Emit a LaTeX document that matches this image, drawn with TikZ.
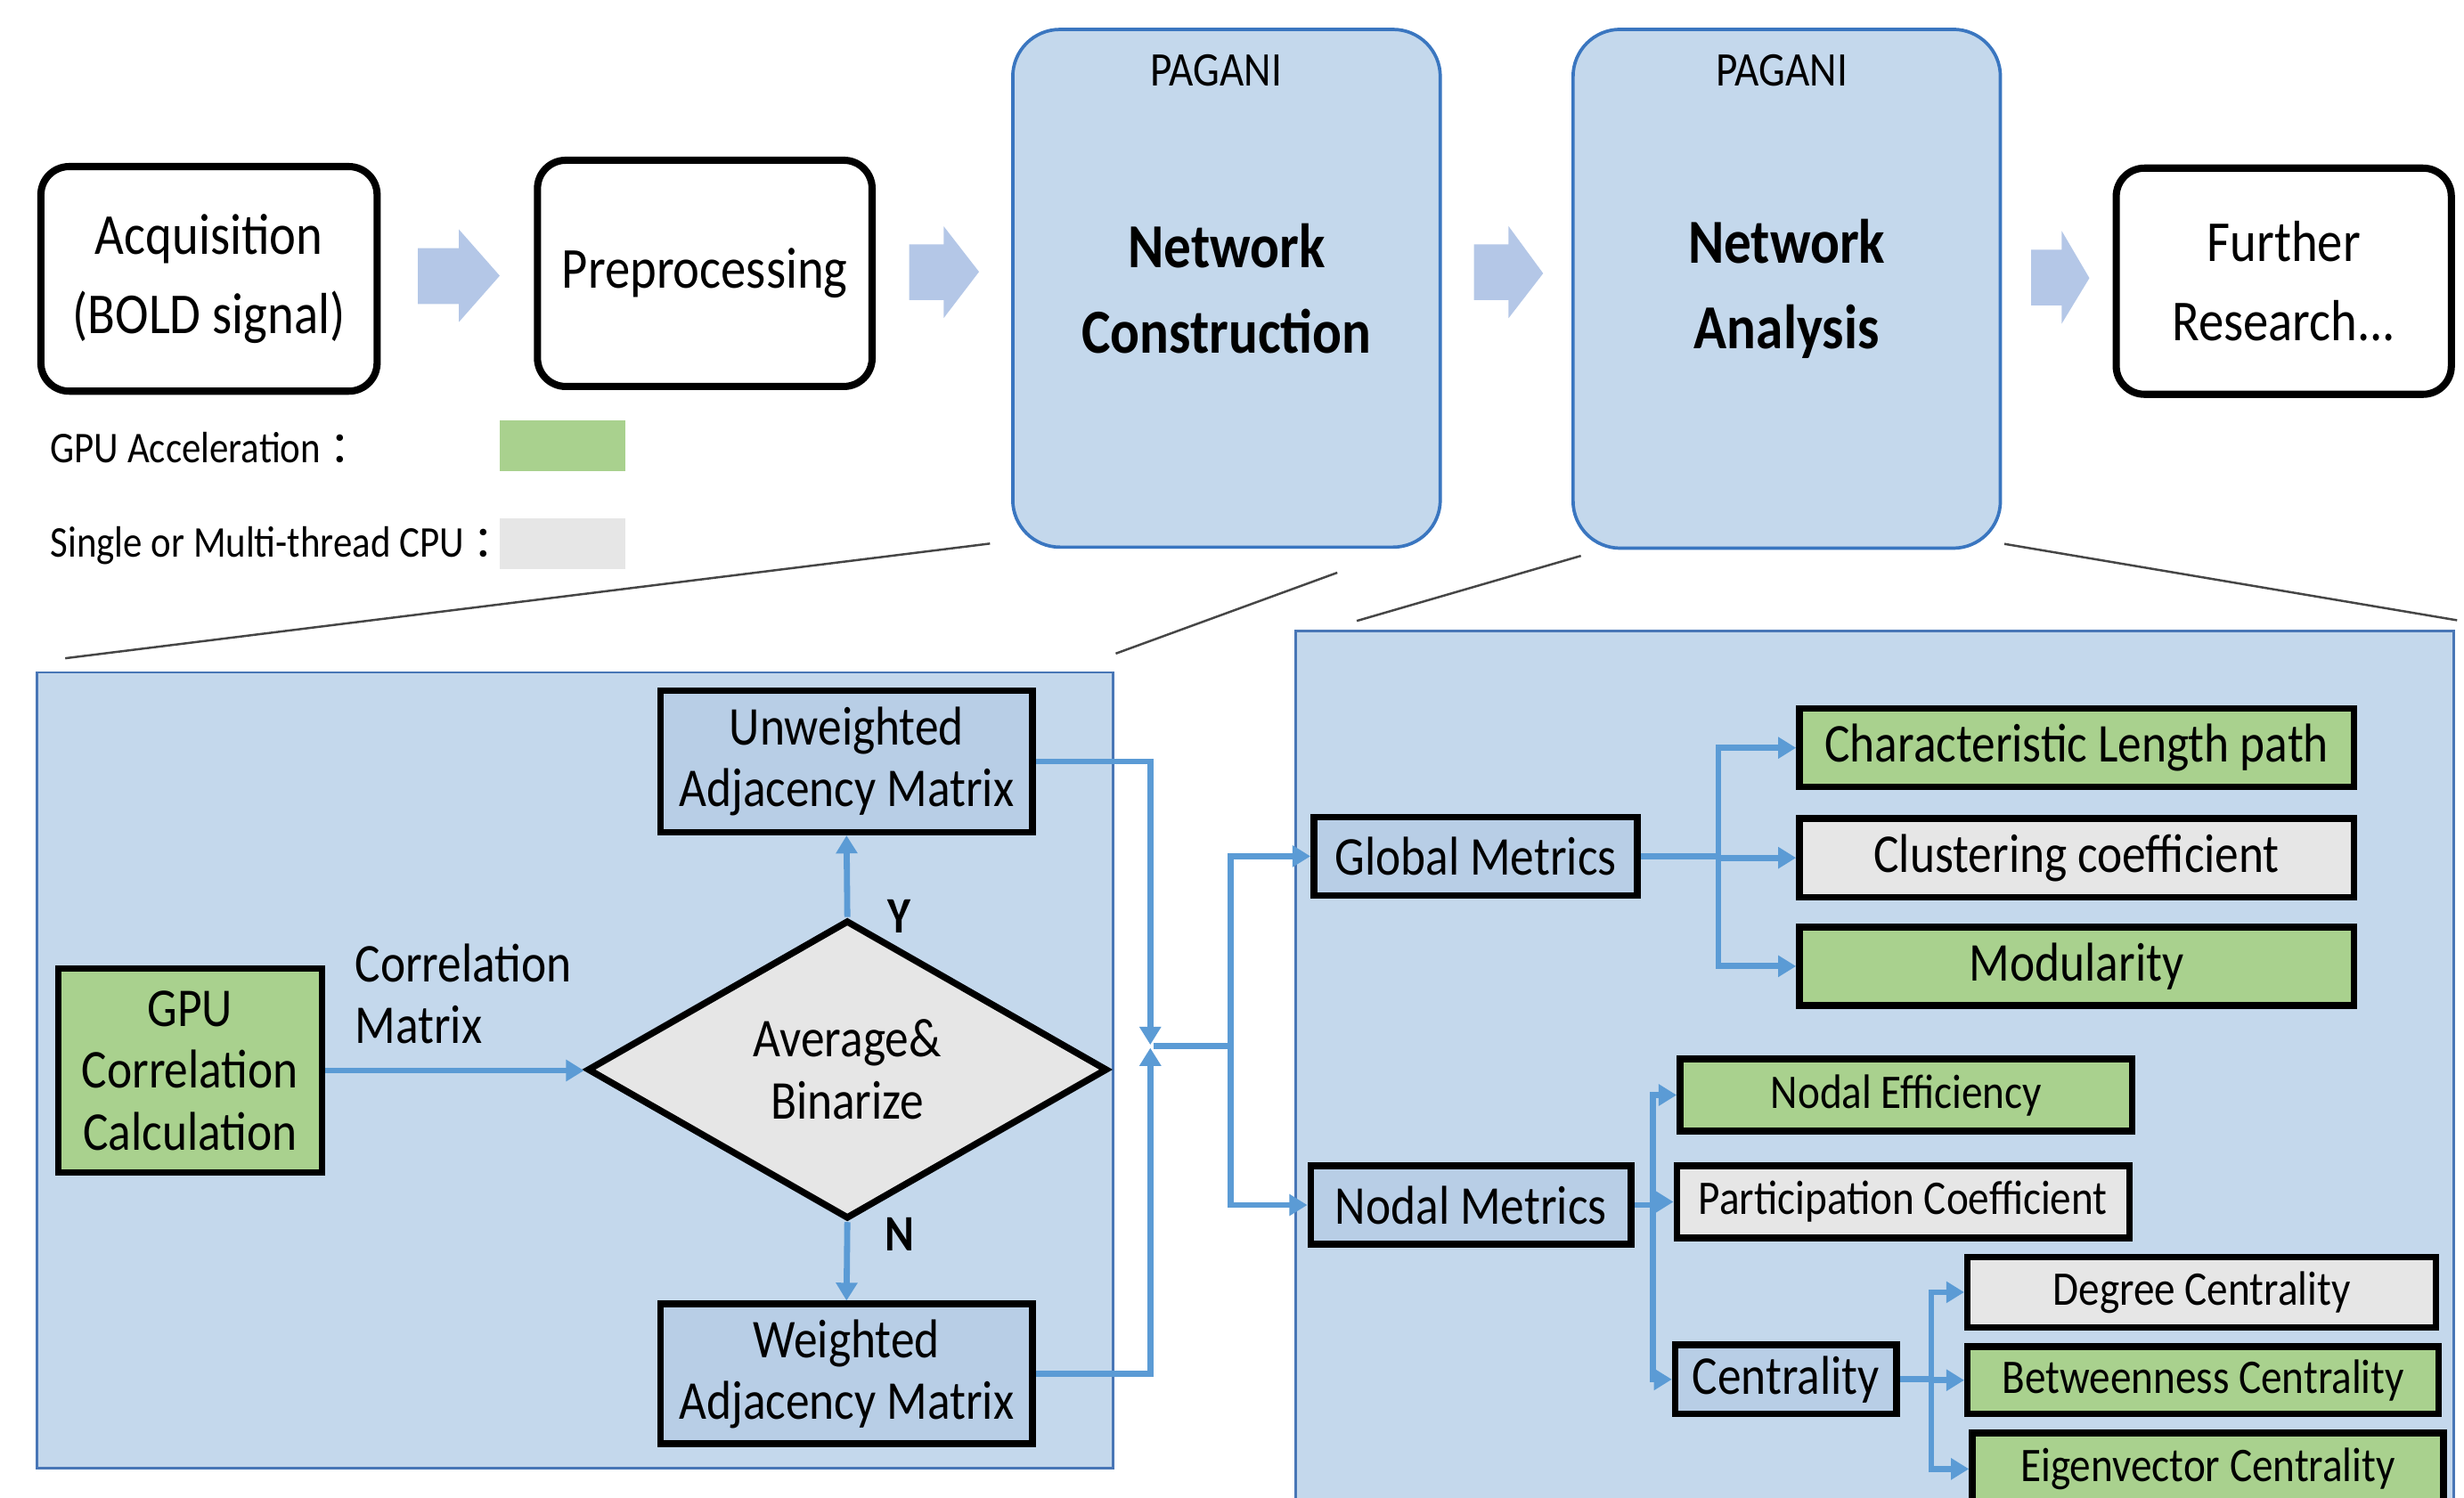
\documentclass[tikz,border=0pt]{standalone}
\usepackage{fontspec}
\setmainfont{Carlito}[FakeStretch=0.87]
\newfontfamily\cjk{Noto Sans CJK SC}
\usetikzlibrary{arrows.meta,shapes.geometric,calc}
\definecolor{panelblue}{RGB}{196,216,236}
\definecolor{boxblue}{RGB}{184,206,230}
\definecolor{pagborder}{RGB}{58,118,192}
\definecolor{panelborder}{RGB}{72,118,182}
\definecolor{arrowblue}{RGB}{180,199,231}
\definecolor{connblue}{RGB}{91,155,213}
\definecolor{gpugreen}{RGB}{169,209,142}
\definecolor{cpugray}{RGB}{230,230,230}
\definecolor{zoomgray}{RGB}{70,70,70}
\newcommand\fsz[2]{\fontsize{#1}{#2}\selectfont}
\begin{document}
\begin{tikzpicture}[x=0.02cm,y=-0.02cm,
  sz/.style 2 args={minimum width=#1cm,minimum height=#2cm},
  topbox/.style={draw=black,line width=2.6pt,rounded corners=0.36cm,fill=white,inner sep=0pt,align=center,font=\fsz{21}{28.8}},
  pagbox/.style={draw=pagborder,line width=1.2pt,rounded corners=0.6cm,fill=panelblue,inner sep=0pt,align=center,font=\bfseries\fsz{22.7}{31}},
  panel/.style={draw=panelborder,line width=0.9pt,fill=panelblue,inner sep=0pt},
  sqbox/.style={draw=black,line width=2.4pt,inner sep=0pt,align=center},
  bluebox/.style={sqbox,fill=boxblue},
  greenbox/.style={sqbox,fill=gpugreen},
  graybox/.style={sqbox,fill=cpugray},
  bigtxt/.style={font=\fsz{19.8}{22.4}},
  smalltxt/.style={font=\fsz{17.5}{21}},
  blockarrow/.style={fill=arrowblue},
  zoomline/.style={draw=zoomgray,line width=0.8pt},
  link/.style={draw=connblue,line width=2.2pt},
  conn/.style={link,-{Triangle[length=6.5pt,width=7.5pt]}},
  legtxt/.style={anchor=base west,inner sep=0pt,font=\fsz{15.9}{18}},
  pagtxt/.style={font=\fsz{17.5}{20},inner sep=0pt},
  yntxt/.style={anchor=base,inner sep=0pt,font=\bfseries\fsz{18.5}{20}}
]
\useasboundingbox (0,0) rectangle (1568,953);
\clip (0,0) rectangle (1568,953);
\fill[white] (0,0) rectangle (1568,953);

% zoom lines
\draw[zoomline] (630,346) -- (41.5,419);
\draw[zoomline] (851,364.5) -- (710,416);
\draw[zoomline] (1006,353.8) -- (863.4,395.2);
\draw[zoomline] (1275.5,346.2) -- (1563.6,394.8);

% top row
\node[topbox, sz={4.28}{2.86}] (acq) at (133,177.5) {Acquisition\\(BOLD signal)};
\node[topbox, sz={4.26}{2.88}] (pre) at (448.5,174) {Preprocessing};
\node[pagbox, sz={5.442}{6.592}] (nc) at (780.5,183.5) {Network\\Construction};
\node[pagbox, sz={5.44}{6.606}] (na) at (1137,183.8) {Network\\Analysis};
\node[topbox, sz={4.266}{2.88}] (fr) at (1453.3,179) {Further\\Research...};
\node[pagtxt] (pg1) at (774,45) {PAGANI};
\node[pagtxt] (pg2) at (1134,45) {PAGANI};

% block arrows
\fill[blockarrow] (266,158) -- (292,158) -- (292,146) -- (318,175.5) -- (292,205) -- (292,193.5) -- (266,193.5) -- cycle;
\fill[blockarrow] (578.6,155.6) -- (600.5,155.6) -- (600.5,144) -- (623,173) -- (600.5,202.5) -- (600.5,191) -- (578.6,191) -- cycle;
\fill[blockarrow] (938,155.6) -- (960,155.6) -- (960,144) -- (982,174) -- (960,202.5) -- (960,191) -- (938,191) -- cycle;
\fill[blockarrow] (1292.5,159) -- (1312,159) -- (1312,147) -- (1329.6,177) -- (1312,206) -- (1312,194.4) -- (1292.5,194.4) -- cycle;

% legend
\node[legtxt] (lgpu) at (31.8,294.6) {GPU Acceleration\hspace{3pt}{\cjk ：}};
\node[legtxt] (lcpu) at (31.8,354.3) {Single or Multi-thread CPU\hspace{3pt}{\cjk ：}};
\node[fill=gpugreen, inner sep=0pt, sz={1.594}{0.65}] (kgpu) at (357.85,283.75) {};
\node[fill=cpugray, inner sep=0pt, sz={1.594}{0.64}] (kcpu) at (357.85,346) {};

% panels
\node[panel, sz={13.698}{10.132}] (lp) at (365.95,681.3) {};
\node[panel, sz={14.744}{11.972}] (rp) at (1192.9,700.7) {};

% left panel
\node[greenbox, bigtxt, sz={3.356}{2.596}] (gpu) at (120.9,681.4) {GPU\\Correlation\\Calculation};
\node[bluebox, bigtxt, sz={4.732}{1.802}] (unw) at (538.7,484.65) {Unweighted\\Adjacency Matrix};
\node[bluebox, bigtxt, sz={4.732}{1.78}] (wei) at (538.7,874.5) {Weighted\\Adjacency Matrix};
\node[diamond, draw=black, line width=2.4pt, fill=cpugray, inner sep=0pt,
      minimum width=6.62cm, minimum height=3.8cm, align=center, bigtxt] (dia) at (539.2,680.8) {Average\&\\Binarize};
\node[anchor=south west, inner sep=0pt, align=left, bigtxt] (cmlab) at (225.6,664.8) {Correlation\\Matrix};
\node[yntxt] (ylab) at (572.5,593.8) {Y};
\node[yntxt] (nlab) at (572.5,796.2) {N};

\draw[conn] (gpu.east) -- (gpu.east -| dia.west);
\draw[conn] (dia.north) -- (unw.south);
\draw[conn] (dia.south) -- (wei.north);
\coordinate (mtop) at (732,665);
\coordinate (mbot) at (732,667);
\draw[conn] (unw.east) -| (mtop);
\draw[conn] (wei.east) -| (mbot);
\coordinate (mj) at (734,666);
\coordinate (jn) at (783,666);
\draw[link] (mj) -- (jn);

% right panel
\node[bluebox, bigtxt, sz={4.12}{1.0}] (glob) at (939,545) {Global Metrics};
\node[greenbox, bigtxt, sz={7.06}{1.0}] (char) at (1321.5,476) {Characteristic Length path};
\node[graybox, bigtxt, sz={7.06}{1.0}] (clus) at (1321.5,546) {Clustering coefficient};
\node[greenbox, bigtxt, sz={7.06}{1.0}] (modu) at (1321.5,615) {Modularity};
\node[bluebox, bigtxt, sz={4.08}{1.0}] (nod) at (936,767) {Nodal Metrics};
\node[greenbox, smalltxt, sz={5.76}{0.92}] (neff) at (1213,697) {Nodal Efficiency};
\node[graybox, smalltxt, sz={5.76}{0.92}] (part) at (1211,765) {Participation Coefficient};
\node[bluebox, bigtxt, sz={2.82}{0.88}] (cent) at (1136.5,878) {Centrality};
\node[graybox, smalltxt, sz={5.96}{0.9}] (deg) at (1401,822.5) {Degree Centrality};
\node[greenbox, smalltxt, sz={6.0}{0.86}] (bet) at (1402,878.5) {Betweenness Centrality};
\node[greenbox, smalltxt, sz={6.0}{0.92}] (eig) at (1405,935) {Eigenvector Centrality};

\draw[conn] (jn) |- (glob.west);
\draw[conn] (jn) |- (nod.west);

\coordinate (gb) at (1093.5,545);
\draw[link] (glob.east) -- (gb);
\draw[conn] (gb) |- (char.west);
\draw[conn] (gb) |- (clus.west);
\draw[conn] (gb) |- (modu.west);

\coordinate (nb) at (1052,767);
\draw[link] (nod.east) -- (nb);
\draw[conn] (nb) |- (neff.west);
\draw[conn] (nb) |- (part.west);
\draw[conn] (nb) |- (cent.west);

\coordinate (cb) at (1229,878);
\draw[link] (cent.east) -- (cb);
\draw[conn] (cb) |- (deg.west);
\draw[conn] (cb) |- (bet.west);
\draw[conn] (cb) |- (eig.west);
\end{tikzpicture}
\end{document}
